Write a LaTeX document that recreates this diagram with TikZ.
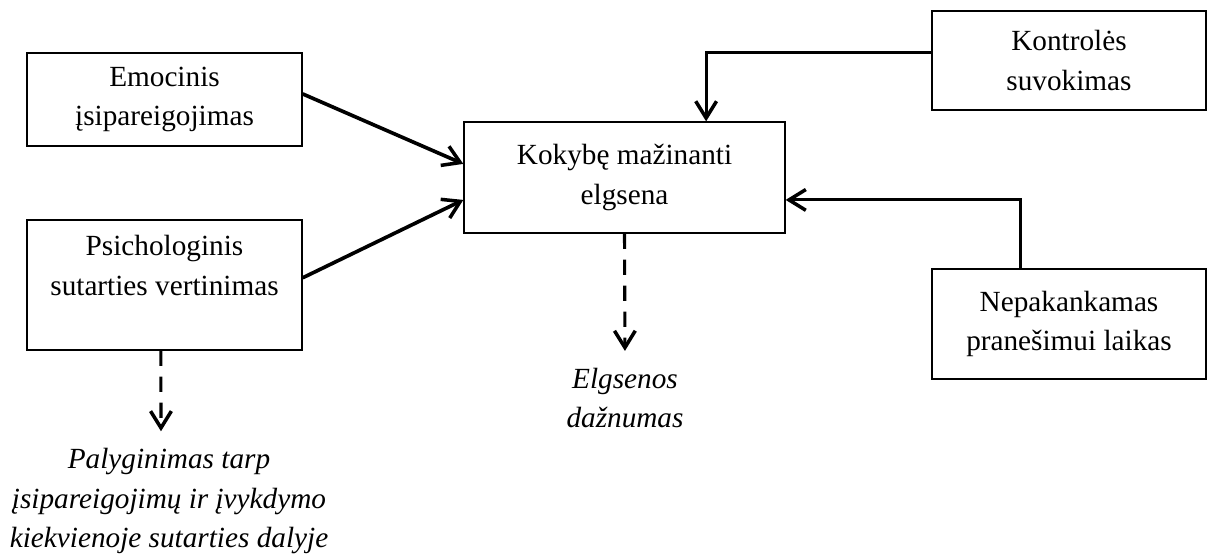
\documentclass[tikz,border=0pt]{standalone}
\usepackage{fontspec}
\setmainfont{Liberation Serif}
\usetikzlibrary{arrows.meta}

\begin{document}
\begin{tikzpicture}[
  x=0.025cm,
  y=-0.025cm,
  font=\fontsize{20.8}{28}\selectfont,
  box/.style={
    draw,
    line width=0.9pt,
    align=center,
    inner sep=0pt
  },
  link/.style={
    line width=2.2pt,
    -{Straight Barb[length=0.42cm,width=0.52cm,line width=2.5pt]}
  },
  effect/.style={
    link,
    dash pattern=on 0.38cm off 0.27cm,
    shorten >=0.42cm
  },
  outcome/.style={
    align=center,
    inner sep=0pt,
    font=\fontsize{20.8}{28}\selectfont\itshape
  },
]
\useasboundingbox (0,0) rectangle (1207,555);

\node[box, minimum width=6.875cm, minimum height=2.325cm] (emo) at (164.5,99.5)
  {Emocinis\\ įsipareigojimas};
\node[box, minimum width=6.875cm, minimum height=3.25cm] (psy) at (164.5,285)
  {Psichologinis\\ sutarties vertinimas\\ \mbox{}};
\node[box, minimum width=8.025cm, minimum height=2.775cm] (kok) at (624.5,177.5)
  {Kokybę mažinanti\\ elgsena};
\node[box, minimum width=6.85cm, minimum height=2.475cm] (kon) at (1069,60.5)
  {Kontrolės\\ suvokimas};
\node[box, minimum width=6.85cm, minimum height=2.75cm] (nep) at (1069,324)
  {Nepakankamas\\ pranešimui laikas};

\node[outcome] (freq) at (625,398) {Elgsenos\\ dažnumas};
\node[outcome] (cmp) at (169,501)
  {Palyginimas tarp\\ įsipareigojimų ir įvykdymo\\ kiekvienoje sutarties dalyje};

\draw[link, line width=2.6pt] ([yshift=0.14cm]emo.east) -- ([yshift=0.34cm]kok.west);
\draw[link, line width=2.6pt] ([yshift=0.18cm]psy.east) -- ([yshift=-0.56cm]kok.west);
\draw[link] ([yshift=0.19cm]kon.west) -| ([xshift=2.04cm]kok.north);
\draw[link] ([xshift=-1.22cm]nep.north) |- ([yshift=-0.56cm]kok.east);

\draw[effect] (kok.south) -- (freq.north);
\draw[effect] ([xshift=-0.09cm]psy.south) -- ([xshift=-0.2cm]cmp.north);
\end{tikzpicture}
\end{document}
